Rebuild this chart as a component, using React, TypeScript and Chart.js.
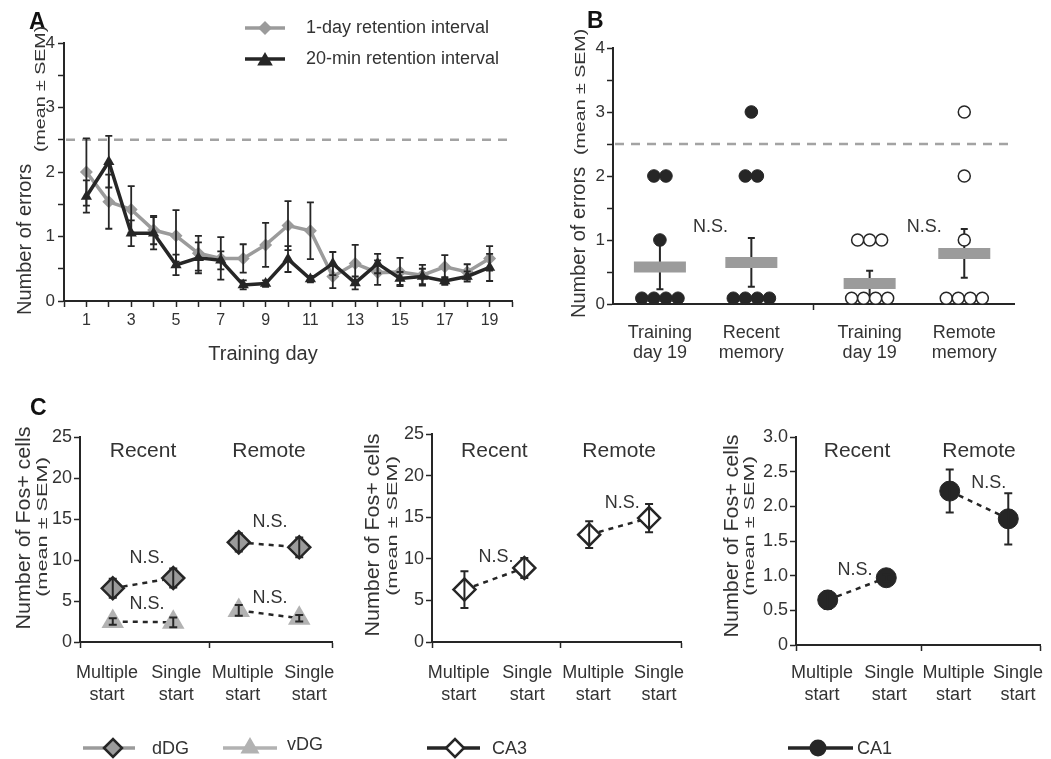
import React, { useEffect, useRef } from 'react';
import { Chart, registerables } from 'chart.js';

Chart.register(...registerables);

// ---------------- Panel A data ----------------
const trainingDays = [1, 2, 3, 4, 5, 6, 7, 8, 9, 10, 11, 12, 13, 14, 15, 16, 17, 18, 19];
const oneDayMean = [2.0, 1.54, 1.42, 1.1, 1.01, 0.74, 0.66, 0.66, 0.87, 1.17, 1.09, 0.38, 0.58, 0.44, 0.45, 0.4, 0.53, 0.45, 0.66];
const oneDaySem = [0.52, 0.42, 0.36, 0.22, 0.4, 0.27, 0.33, 0.22, 0.34, 0.38, 0.44, 0.18, 0.29, 0.19, 0.22, 0.16, 0.18, 0.12, 0.19];
const twentyMinMean = [1.62, 2.16, 1.05, 1.05, 0.56, 0.67, 0.63, 0.25, 0.27, 0.65, 0.34, 0.58, 0.28, 0.58, 0.35, 0.38, 0.31, 0.38, 0.52];
const twentyMinSem = [0.25, 0.4, 0.2, 0.25, 0.16, 0.24, 0.14, 0.07, 0.05, 0.2, 0.05, 0.18, 0.1, 0.15, 0.1, 0.12, 0.06, 0.08, 0.21];
const chanceLevel = 2.5;
const seriesNamesA = ['1-day retention interval', '20-min retention interval'];

// ---------------- Panel B data ----------------
const memoryGroups = [['Training', 'day 19'], ['Recent', 'memory'], ['Training', 'day 19'], ['Remote', 'memory']];
const memoryGroupX = [1.17, 3.45, 6.4, 8.76];
const memoryErrors = [
  [0, 0, 0, 0, 1, 2, 2],
  [0, 0, 0, 0, 2, 2, 3],
  [0, 0, 0, 0, 1, 1, 1],
  [0, 0, 0, 0, 1, 2, 3],
];
const memoryMean = [0.58, 0.65, 0.32, 0.79];
const memorySem = [0.35, 0.38, 0.2, 0.38];
const memoryFilled = [true, true, false, false];

// ---------------- Panel C data ----------------
const startConditions = [['Multiple', 'start'], ['Single', 'start'], ['Multiple', 'start'], ['Single', 'start']];
const conditionX = [1.3, 3.7, 6.3, 8.7];
const conditionLabelX = [1.07, 3.82, 6.46, 9.1];
const epochs = ['Recent', 'Remote'];
const dDGMean = [6.55, 7.8, 12.15, 11.55];
const dDGSem = [1.15, 1.15, 1.1, 1.2];
const vDGMean = [2.5, 2.4, 3.85, 2.9];
const vDGSem = [0.4, 0.6, 0.65, 0.4];
const ca3Mean = [6.3, 8.9, 12.9, 14.9];
const ca3Sem = [2.2, 1.2, 1.6, 1.7];
const ca1Mean = [0.65, 0.97, 2.22, 1.82];
const ca1Sem = [0.13, 0.05, 0.31, 0.37];

// ---------------- styling ----------------
const FONT = '"Liberation Sans", Arial, Helvetica, sans-serif';
const INK = '#262626';
const TEXT = '#333333';
const GRAY = '#9b9b9b';
const LIGHT = '#b2b2b2';

type TextOpt = {
  size?: number;
  weight?: string;
  align?: CanvasTextAlign;
  baseline?: CanvasTextBaseline;
  rotate?: number;
  stretch?: number;
  color?: string;
};

function txt(ctx: CanvasRenderingContext2D, s: string, x: number, y: number, o: TextOpt = {}) {
  ctx.save();
  ctx.translate(x, y);
  if (o.rotate) ctx.rotate(o.rotate);
  if (o.stretch) ctx.scale(o.stretch, 1);
  ctx.font = `${o.weight || 'normal'} ${o.size || 16}px ${FONT}`;
  ctx.fillStyle = o.color || TEXT;
  ctx.textAlign = o.align || 'left';
  ctx.textBaseline = o.baseline || 'alphabetic';
  ctx.fillText(s, 0, 0);
  ctx.restore();
}

function marker(ctx: CanvasRenderingContext2D, shape: string, x: number, y: number, r: number, fill: string, stroke: string, lw: number) {
  ctx.save();
  ctx.beginPath();
  if (shape === 'diamond') {
    ctx.moveTo(x - r, y);
    ctx.lineTo(x, y - r);
    ctx.lineTo(x + r, y);
    ctx.lineTo(x, y + r);
    ctx.closePath();
  } else if (shape === 'triangle') {
    ctx.moveTo(x, y - r);
    ctx.lineTo(x + r * 0.866, y + r * 0.5);
    ctx.lineTo(x - r * 0.866, y + r * 0.5);
    ctx.closePath();
  } else {
    ctx.arc(x, y, r, 0, Math.PI * 2);
  }
  ctx.fillStyle = fill;
  ctx.fill();
  if (lw > 0) {
    ctx.strokeStyle = stroke;
    ctx.lineWidth = lw;
    ctx.stroke();
  }
  ctx.restore();
}

function legendLine(ctx: CanvasRenderingContext2D, x1: number, x2: number, y: number, color: string) {
  ctx.save();
  ctx.strokeStyle = color;
  ctx.lineWidth = 3.5;
  ctx.beginPath();
  ctx.moveTo(x1, y);
  ctx.lineTo(x2, y);
  ctx.stroke();
  ctx.restore();
}

function errorBars(chart: any, cap: number, lw: number) {
  const { ctx } = chart;
  const xs = chart.scales.x;
  const ys = chart.scales.y;
  ctx.save();
  ctx.strokeStyle = INK;
  ctx.lineWidth = lw;
  chart.data.datasets.forEach((ds: any) => {
    if (!ds.sem) return;
    ds.data.forEach((pt: any, i: number) => {
      const s = ds.sem[i];
      if (!s) return;
      const px = xs.getPixelForValue(pt.x);
      const t = ys.getPixelForValue(pt.y + s);
      const b = ys.getPixelForValue(pt.y - s);
      ctx.beginPath();
      ctx.moveTo(px, t);
      ctx.lineTo(px, b);
      ctx.moveTo(px - cap, t);
      ctx.lineTo(px + cap, t);
      ctx.moveTo(px - cap, b);
      ctx.lineTo(px + cap, b);
      ctx.stroke();
    });
  });
  ctx.restore();
}

function dashedChance(chart: any) {
  const { ctx, chartArea } = chart;
  const y = chart.scales.y.getPixelForValue(chanceLevel);
  ctx.save();
  ctx.strokeStyle = '#a3a3a3';
  ctx.lineWidth = 2.5;
  ctx.setLineDash([9, 7]);
  ctx.beginPath();
  ctx.moveTo(chartArea.left + 2, y);
  ctx.lineTo(chartArea.right, y);
  ctx.stroke();
  ctx.restore();
}

function axisLook() {
  return {
    grid: { drawOnChartArea: false, drawTicks: true, tickLength: 6, tickColor: INK, tickWidth: 1.5 },
    border: { display: true, color: INK, width: 2 },
  };
}

// ---------------- Panel A ----------------
function configA(): any {
  return {
    type: 'line',
    data: {
      datasets: [
        {
          label: seriesNamesA[0],
          data: trainingDays.map((d, i) => ({ x: d, y: oneDayMean[i] })),
          sem: oneDaySem,
          borderColor: GRAY,
          borderWidth: 3.5,
          pointStyle: 'rectRot',
          pointRadius: 6.5,
          pointBackgroundColor: GRAY,
          pointBorderColor: GRAY,
          pointBorderWidth: 0,
          tension: 0,
          order: 2,
          clip: false,
        },
        {
          label: seriesNamesA[1],
          data: trainingDays.map((d, i) => ({ x: d, y: twentyMinMean[i] })),
          sem: twentyMinSem,
          borderColor: INK,
          borderWidth: 3.5,
          pointStyle: 'triangle',
          pointRadius: 6.5,
          pointBackgroundColor: INK,
          pointBorderColor: INK,
          pointBorderWidth: 0,
          tension: 0,
          order: 1,
          clip: false,
        },
      ],
    },
    options: {
      animation: false,
      responsive: false,
      devicePixelRatio: 1,
      layout: { padding: { top: 43, right: 33, bottom: 0, left: 0 } },
      plugins: { legend: { display: false }, tooltip: { enabled: false } },
      scales: {
        x: {
          type: 'linear',
          min: 0,
          max: 20,
          afterFit: (s: any) => { s.height = 69; },
          ticks: {
            stepSize: 1,
            maxTicksLimit: 50,
            autoSkip: false,
            maxRotation: 0,
            padding: 4,
            color: TEXT,
            font: { family: FONT, size: 16 },
            callback: (v: number) => (v % 2 === 1 ? String(v) : ''),
          },
          ...axisLook(),
        },
        y: {
          type: 'linear',
          min: 0,
          max: 4,
          afterFit: (s: any) => { s.width = 64; },
          ticks: {
            stepSize: 0.5,
            padding: 3,
            color: TEXT,
            font: { family: FONT, size: 17 },
            callback: (v: number) => (Number.isInteger(v) ? String(v) : ''),
          },
          ...axisLook(),
        },
      },
    },
    plugins: [
      {
        id: 'decoA',
        beforeDatasetsDraw(chart: any) { dashedChance(chart); },
        afterDatasetsDraw(chart: any) { errorBars(chart, 3.5, 1.8); },
        afterDraw(chart: any) {
          const ctx = chart.ctx;
          txt(ctx, 'A', 29, 29, { size: 23, weight: 'bold', color: '#111' });
          legendLine(ctx, 245, 285, 28, GRAY);
          marker(ctx, 'diamond', 265, 28, 7, GRAY, GRAY, 0);
          txt(ctx, seriesNamesA[0], 306, 28, { size: 18, baseline: 'middle' });
          legendLine(ctx, 245, 285, 59, INK);
          marker(ctx, 'triangle', 265, 61, 9, INK, INK, 0);
          txt(ctx, seriesNamesA[1], 306, 59, { size: 18, baseline: 'middle' });
          txt(ctx, 'Number of errors', 31, 315, { size: 20, rotate: -Math.PI / 2 });
          txt(ctx, '(mean ± SEM)', 45, 152, { size: 14, rotate: -Math.PI / 2, stretch: 1.4 });
          txt(ctx, 'Training day', 263, 360, { size: 20, align: 'center' });
        },
      },
    ],
  };
}

// ---------------- Panel B ----------------
const DOT_LIFT = 0.09; // zero-error dots rest on the axis
function spread(values: number[]) {
  const counts: Record<number, number> = {};
  values.forEach((v) => { counts[v] = (counts[v] || 0) + 1; });
  const seen: Record<number, number> = {};
  return values.map((v) => {
    seen[v] = (seen[v] || 0) + 1;
    return (seen[v] - 1 - (counts[v] - 1) / 2) * 0.3;
  });
}

function dotsFor(filled: boolean) {
  const pts: any[] = [];
  memoryErrors.forEach((vals, g) => {
    if (memoryFilled[g] !== filled) return;
    const off = spread(vals);
    vals.forEach((v, i) => pts.push({ x: memoryGroupX[g] + off[i], y: v === 0 ? DOT_LIFT : v }));
  });
  return pts;
}

function configB(): any {
  return {
    type: 'scatter',
    data: {
      datasets: [
        {
          data: memoryGroupX.map((x, i) => ({ x, y: memoryMean[i] })),
          sem: memorySem,
          pointStyle: 'line',
          pointRadius: 26,
          pointBorderWidth: 11,
          pointBorderColor: GRAY,
          pointBackgroundColor: GRAY,
          clip: false,
          order: 3,
        },
        {
          data: dotsFor(true),
          pointStyle: 'circle',
          pointRadius: 6.3,
          pointBackgroundColor: INK,
          pointBorderColor: INK,
          pointBorderWidth: 1,
          clip: false,
          order: 2,
        },
        {
          data: dotsFor(false),
          pointStyle: 'circle',
          pointRadius: 6,
          pointBackgroundColor: '#ffffff',
          pointBorderColor: INK,
          pointBorderWidth: 1.5,
          clip: false,
          order: 1,
        },
      ],
    },
    options: {
      animation: false,
      responsive: false,
      devicePixelRatio: 1,
      layout: { padding: { top: 48, right: 1, bottom: 0, left: 0 } },
      plugins: { legend: { display: false }, tooltip: { enabled: false } },
      scales: {
        x: {
          type: 'linear',
          min: 0,
          max: 10,
          afterFit: (s: any) => { s.height = 66; },
          afterBuildTicks: (s: any) => { s.ticks = [{ value: 5 }]; },
          ticks: { callback: () => '', padding: 0 },
          ...axisLook(),
        },
        y: {
          type: 'linear',
          min: 0,
          max: 4,
          afterFit: (s: any) => { s.width = 63; },
          ticks: {
            stepSize: 0.5,
            padding: 2,
            color: TEXT,
            font: { family: FONT, size: 17 },
            callback: (v: number) => (Number.isInteger(v) ? String(v) : ''),
          },
          ...axisLook(),
        },
      },
    },
    plugins: [
      {
        id: 'decoB',
        beforeDatasetsDraw(chart: any) {
          dashedChance(chart);
          errorBars(chart, 3.5, 2);
        },
        afterDraw(chart: any) {
          const ctx = chart.ctx;
          const xs = chart.scales.x;
          const ys = chart.scales.y;
          txt(ctx, 'B', 37, 28, { size: 23, weight: 'bold', color: '#111' });
          txt(ctx, 'Number of errors', 35, 318, { size: 20, rotate: -Math.PI / 2 });
          txt(ctx, '(mean ± SEM)', 35, 155, { size: 14, rotate: -Math.PI / 2, stretch: 1.4 });
          memoryGroups.forEach((lines, i) => {
            const px = xs.getPixelForValue(memoryGroupX[i]);
            txt(ctx, lines[0], px, 338, { size: 18, align: 'center' });
            txt(ctx, lines[1], px, 358, { size: 18, align: 'center' });
          });
          [[2.43, 1.2], [7.76, 1.2]].forEach(([x, y]) => {
            txt(ctx, 'N.S.', xs.getPixelForValue(x), ys.getPixelForValue(y), { size: 18, align: 'center', baseline: 'middle' });
          });
        },
      },
    ],
  };
}

// ---------------- Panel C ----------------
function cSeries(mean: number[], sem: number[], shape: string, r: number, fill: string, lw: number) {
  return {
    data: conditionX.map((x, i) => ({ x, y: mean[i] })),
    sem,
    showLine: true,
    borderColor: INK,
    borderWidth: 2.5,
    borderDash: [5, 5],
    segment: { borderColor: (c: any) => (c.p0DataIndex === 1 ? 'rgba(0,0,0,0)' : INK) },
    pointStyle: shape,
    pointRadius: r,
    pointBackgroundColor: fill,
    pointBorderColor: INK,
    pointBorderWidth: lw,
    tension: 0,
    clip: false,
  };
}

type CSetup = {
  datasets: any[];
  yMax: number;
  yStep: number;
  yFmt: (v: number) => string;
  yWidth: number;
  top: number;
  right: number;
  xHeight: number;
  ns: number[][];
  title1: number[];
  title2: number[];
  letter?: boolean;
  legend: (ctx: CanvasRenderingContext2D) => void;
};

function makeC(o: CSetup): any {
  return {
    type: 'line',
    data: { datasets: o.datasets },
    options: {
      animation: false,
      responsive: false,
      devicePixelRatio: 1,
      layout: { padding: { top: o.top, right: o.right, bottom: 0, left: 0 } },
      plugins: { legend: { display: false }, tooltip: { enabled: false } },
      scales: {
        x: {
          type: 'linear',
          min: 0,
          max: 10,
          afterFit: (s: any) => { s.height = o.xHeight; },
          afterBuildTicks: (s: any) => { s.ticks = [{ value: 0 }, { value: 5.15 }, { value: 10 }]; },
          ticks: { callback: () => '', padding: 0 },
          ...axisLook(),
        },
        y: {
          type: 'linear',
          min: 0,
          max: o.yMax,
          afterFit: (s: any) => { s.width = o.yWidth; },
          ticks: {
            stepSize: o.yStep,
            padding: 2,
            color: TEXT,
            font: { family: FONT, size: 18 },
            callback: (v: number) => o.yFmt(v),
          },
          ...axisLook(),
        },
      },
    },
    plugins: [
      {
        id: 'decoC',
        afterDatasetsDraw(chart: any) { errorBars(chart, 4, 2); },
        afterDraw(chart: any) {
          const ctx = chart.ctx;
          const xs = chart.scales.x;
          const ys = chart.scales.y;
          if (o.letter) txt(ctx, 'C', 30, 35, { size: 23, weight: 'bold', color: '#111' });
          epochs.forEach((e, k) => {
            const px = xs.getPixelForValue((conditionX[2 * k] + conditionX[2 * k + 1]) / 2);
            txt(ctx, e, px, 77, { size: 21, align: 'center' });
          });
          startConditions.forEach((lines, i) => {
            const px = xs.getPixelForValue(conditionLabelX[i]);
            txt(ctx, lines[0], px, 298, { size: 18, align: 'center' });
            txt(ctx, lines[1], px, 320, { size: 18, align: 'center' });
          });
          o.ns.forEach(([x, y]) => {
            txt(ctx, 'N.S.', xs.getPixelForValue(x), ys.getPixelForValue(y), { size: 18, align: 'center', baseline: 'middle' });
          });
          txt(ctx, 'Number of Fos+ cells', o.title1[0], o.title1[1], {
            size: 20, rotate: -Math.PI / 2, align: 'center', baseline: 'middle', stretch: 1.07,
          });
          txt(ctx, '(mean ± SEM)', o.title2[0], o.title2[1], {
            size: 14, rotate: -Math.PI / 2, align: 'center', baseline: 'middle', stretch: 1.55,
          });
          o.legend(ctx);
        },
      },
    ],
  };
}

function configC1(): any {
  return makeC({
    datasets: [
      cSeries(dDGMean, dDGSem, 'rectRot', 11, GRAY, 2.5),
      cSeries(vDGMean, vDGSem, 'triangle', 13, LIGHT, 0),
    ],
    yMax: 25,
    yStep: 5,
    yFmt: (v) => String(v),
    yWidth: 80,
    top: 57,
    right: 23,
    xHeight: 117,
    ns: [[2.66, 10.2], [2.66, 4.6], [7.54, 14.6], [7.54, 5.4]],
    title1: [24, 148],
    title2: [43, 147],
    letter: true,
    legend: (ctx) => {
      legendLine(ctx, 83, 135, 368, GRAY);
      marker(ctx, 'diamond', 113, 368, 9, GRAY, INK, 2.5);
      txt(ctx, 'dDG', 152, 369, { size: 18, baseline: 'middle' });
      legendLine(ctx, 223, 277, 368, LIGHT);
      marker(ctx, 'triangle', 250, 368, 11, LIGHT, LIGHT, 0);
      txt(ctx, 'vDG', 287, 365, { size: 18, baseline: 'middle' });
    },
  });
}

function configC2(): any {
  return makeC({
    datasets: [cSeries(ca3Mean, ca3Sem, 'rectRot', 11, '#ffffff', 2.5)],
    yMax: 25,
    yStep: 5,
    yFmt: (v) => String(v),
    yWidth: 77,
    top: 54,
    right: 10,
    xHeight: 117,
    ns: [[2.57, 10.2], [7.63, 16.7]],
    title1: [18, 155],
    title2: [38, 146],
    legend: (ctx) => {
      legendLine(ctx, 72, 125, 368, INK);
      marker(ctx, 'diamond', 100, 368, 9, '#ffffff', INK, 2.5);
      txt(ctx, 'CA3', 137, 369, { size: 18, baseline: 'middle' });
    },
  });
}

function configC3(): any {
  return makeC({
    datasets: [cSeries(ca1Mean, ca1Sem, 'circle', 10, INK, 1)],
    yMax: 3,
    yStep: 0.5,
    yFmt: (v) => (v === 0 ? '0' : v.toFixed(1)),
    yWidth: 101,
    top: 57,
    right: 3,
    xHeight: 114,
    ns: [[2.42, 1.08], [7.9, 2.34]],
    title1: [37, 156],
    title2: [55, 146],
    legend: (ctx) => {
      legendLine(ctx, 93, 158, 368, INK);
      marker(ctx, 'circle', 123, 368, 8.5, INK, INK, 0);
      txt(ctx, 'CA1', 162, 369, { size: 18, baseline: 'middle' });
    },
  });
}

function ChartBox(props: { left: number; top: number; width: number; height: number; config: () => any }) {
  const ref = useRef<HTMLCanvasElement | null>(null);
  const { left, top, width, height, config } = props;
  useEffect(() => {
    const chart = new Chart(ref.current as HTMLCanvasElement, config());
    return () => chart.destroy();
  }, [config]);
  return (
    <canvas
      ref={ref}
      width={width}
      height={height}
      style={{ position: 'absolute', left, top, width, height }}
    />
  );
}

export default function App() {
  return (
    <div style={{ position: 'absolute', left: 0, top: 0, width: 1051, height: 759, background: '#fff', overflow: 'hidden' }}>
      <ChartBox left={0} top={0} width={545} height={370} config={configA} />
      <ChartBox left={550} top={0} width={501} height={370} config={configB} />
      <ChartBox left={0} top={380} width={355} height={379} config={configC1} />
      <ChartBox left={355} top={380} width={340} height={379} config={configC2} />
      <ChartBox left={695} top={380} width={356} height={379} config={configC3} />
    </div>
  );
}
